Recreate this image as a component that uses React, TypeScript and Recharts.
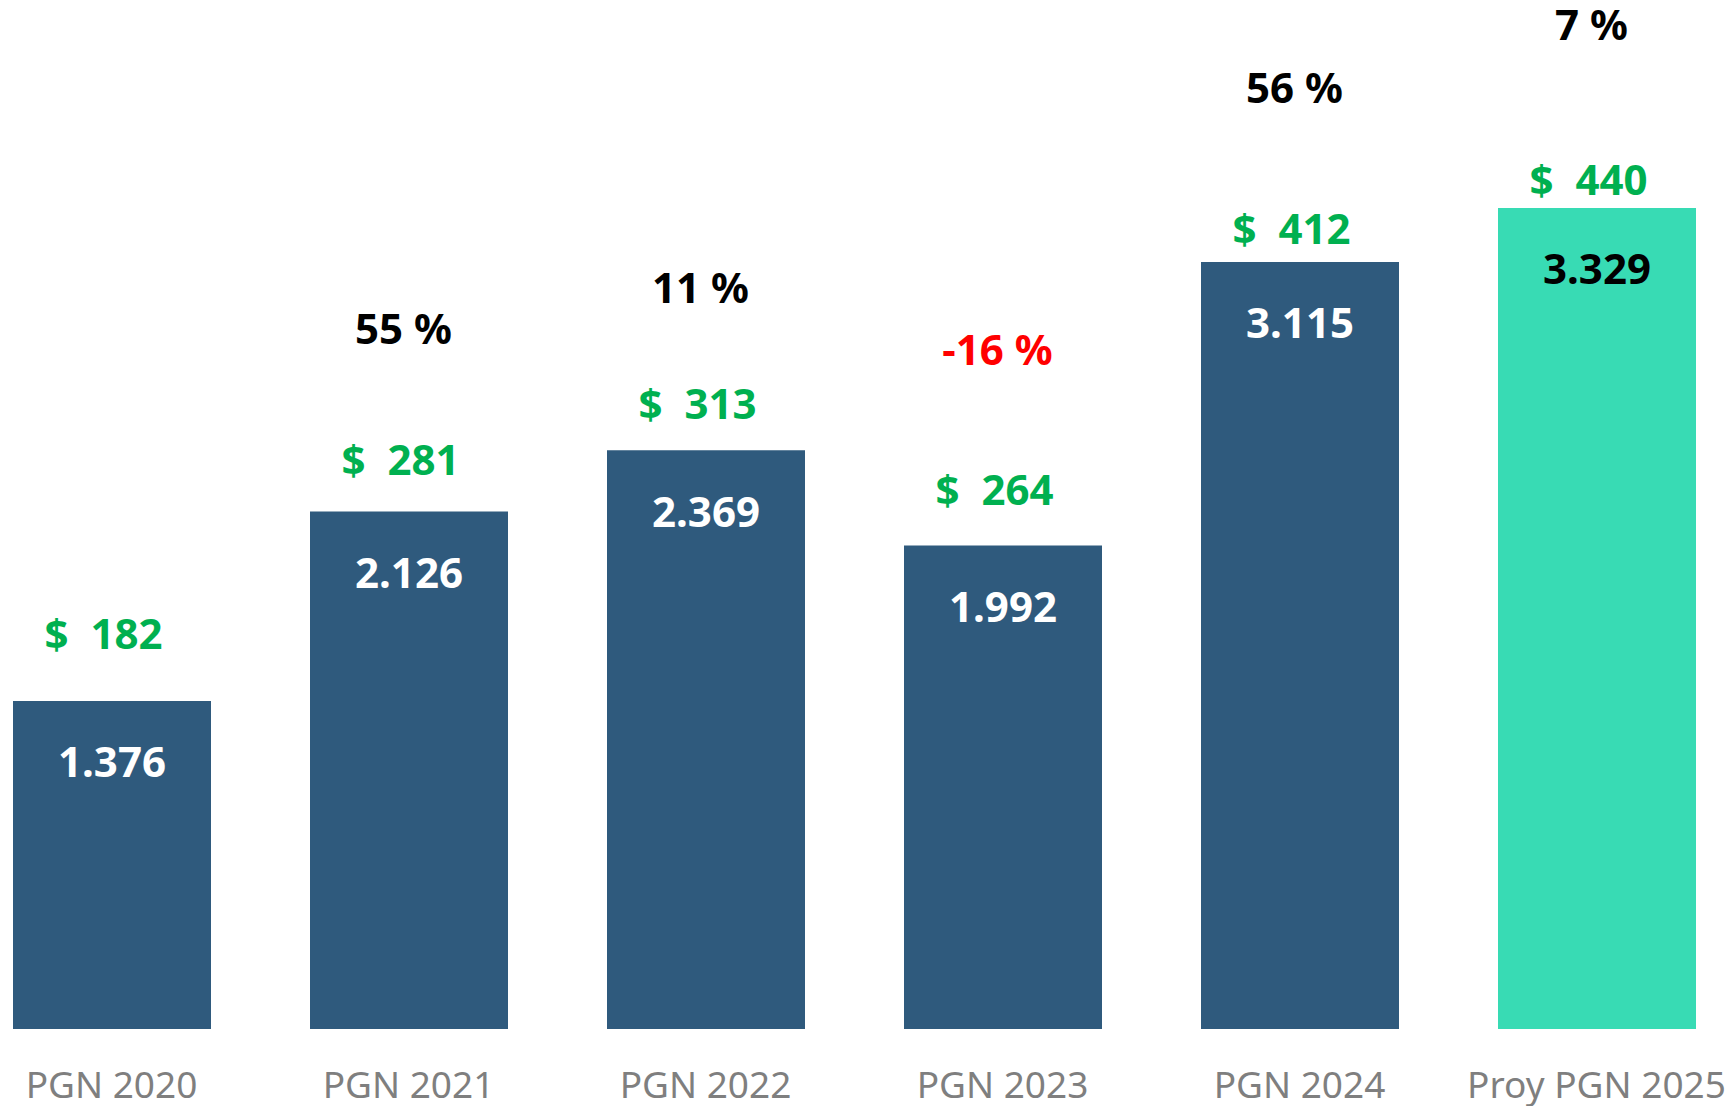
import { Bar, Cell, ComposedChart, LabelList, Line, XAxis, YAxis } from "recharts"

const categories = ["PGN 2020", "PGN 2021", "PGN 2022", "PGN 2023", "PGN 2024", "Proy PGN 2025"]
// bar values (shown with a dot as thousands separator)
const totals = [1376, 2126, 2369, 1992, 3115, 3329]
// green "$" values
const amounts = [182, 281, 313, 264, 412, 440]
// growth of the green values, %
const growth = [null, 55, 11, -16, 56, 7]
// height at which each growth label sits, in bar units
const growthLevel = [null, 2857, 3016, 2774, 3812, 4058]

const FONT = "'Noto Sans', 'Open Sans', sans-serif"

const data = categories.map((name, i) => ({
    name,
    total: totals[i],
    amount: amounts[i],
    growth: growth[i],
    growthAt: growthLevel[i],
}))

const fmtThousands = (v: number) => v.toLocaleString("de-DE")

export default function App() {
    return (
        <div style={{ position: "relative", width: 1726, height: 1106, overflow: "hidden", background: "#fff" }}>
            <style>{`body{margin:0}`}</style>
            <div style={{ position: "absolute", left: -37, top: 0 }}>
                <ComposedChart
                    width={1782}
                    height={1106}
                    data={data}
                    margin={{ top: 0, right: 0, left: 0, bottom: 0 }}
                >
                    <XAxis
                        dataKey="name"
                        axisLine={false}
                        tickLine={false}
                        tickSize={0}
                        tickMargin={43}
                        height={77}
                        interval={0}
                        tick={{ fill: "#7f7f7f", fontSize: 37, fontFamily: FONT }}
                    />
                    <YAxis yAxisId="left" hide domain={[76, 4153]} allowDataOverflow />
                    <YAxis yAxisId="right" hide orientation="right" domain={[-43, 541.5]} allowDataOverflow />
                    <Bar yAxisId="left" dataKey="total" barSize={198} isAnimationActive={false}>
                        {data.map((d, i) => (
                            <Cell key={d.name} fill={i === data.length - 1 ? "#38dbb4" : "#2f5a7d"} />
                        ))}
                        <LabelList
                            dataKey="total"
                            content={(p: any) => (
                                <text
                                    x={p.x + p.width / 2}
                                    y={p.y + 60}
                                    textAnchor="middle"
                                    dominantBaseline="central"
                                    fill={p.index === data.length - 1 ? "#000" : "#fff"}
                                    fontSize={42}
                                    fontWeight={700}
                                    fontFamily={FONT}
                                >
                                    {fmtThousands(p.value)}
                                </text>
                            )}
                        />
                    </Bar>
                    <Line
                        yAxisId="right"
                        dataKey="amount"
                        stroke="none"
                        dot={false}
                        activeDot={false}
                        isAnimationActive={false}
                    >
                        <LabelList
                            dataKey="amount"
                            content={(p: any) => (
                                <text
                                    x={p.x - 8}
                                    y={p.y}
                                    textAnchor="middle"
                                    dominantBaseline="central"
                                    fill="#00b050"
                                    fontSize={42}
                                    fontWeight={700}
                                    fontFamily={FONT}
                                    style={{ whiteSpace: "pre" }}
                                >
                                    {`$  ${p.value}`}
                                </text>
                            )}
                        />
                    </Line>
                    <Line
                        yAxisId="left"
                        dataKey="growthAt"
                        stroke="none"
                        dot={false}
                        activeDot={false}
                        isAnimationActive={false}
                    >
                        <LabelList
                            dataKey="growth"
                            content={(p: any) => {
                                if (p.value == null) return null
                                return (
                                    <text
                                        x={p.x - 5}
                                        y={p.y}
                                        textAnchor="middle"
                                        dominantBaseline="central"
                                        fill={p.value < 0 ? "#ff0000" : "#000"}
                                        fontSize={42}
                                        fontWeight={700}
                                        fontFamily={FONT}
                                    >
                                        {`${p.value} %`}
                                    </text>
                                )
                            }}
                        />
                    </Line>
                </ComposedChart>
            </div>
        </div>
    )
}
